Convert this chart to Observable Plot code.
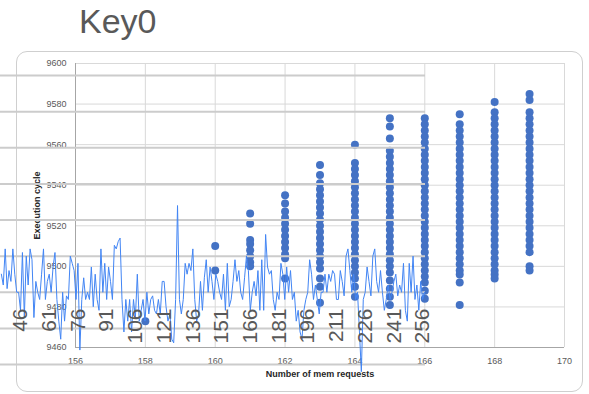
<!DOCTYPE html>
<html><head><meta charset="utf-8">
<script src="https://cdn.jsdelivr.net/npm/d3@7"></script>
<script src="https://cdn.jsdelivr.net/npm/@observablehq/plot@0.6"></script>
<style>
html,body{margin:0;padding:0;background:#fff;}
#wrap{position:relative;width:589px;height:394px;overflow:hidden;font-family:"Liberation Sans",Arial,sans-serif;}
#wrap svg{position:absolute;left:0;top:0;}
#box{position:absolute;left:16px;top:51px;width:567px;height:341px;border:1px solid #cfcfcf;border-radius:11px;box-sizing:border-box;}
#title{position:absolute;left:79px;top:4px;font-size:34px;line-height:34px;color:#595959;white-space:nowrap;}
</style></head><body>
<div id="wrap"><div id="box"></div></div>
<script>
// ---- Background scatter: Execution cycle vs Number of mem requests ----
const scatterXTicks = [156, 158, 160, 162, 164, 166, 168, 170];
const scatterYTicks = [9460, 9480, 9500, 9520, 9540, 9560, 9580, 9600];
const xTitle = "Number of mem requests";
const yTitle = "Execution cycle";

const col158 = [9473];
const col160 = [9510, 9498];
const col161 = [9526, 9521, 9513, 9511, 9508, 9505, 9502, 9500];
const col162 = [9535, 9531, 9527, 9524, 9521, 9518, 9515, 9512, 9509, 9506, 9504, 9494];
const col163 = [9550, 9545, 9541, 9538, 9535, 9532, 9529, 9526, 9523, 9520, 9517, 9514, 9511, 9508, 9505, 9502, 9499, 9494, 9490, 9482];
const col164 = [9560, 9551, 9548, 9545, 9542, 9539, 9536, 9533, 9530, 9527, 9524, 9521, 9518, 9515, 9512, 9509, 9506, 9503, 9500, 9497, 9494, 9490, 9485];
const col165 = [9573, 9569, 9563, 9557, 9554, 9551, 9548, 9545, 9542, 9539, 9536, 9533, 9530, 9527, 9524, 9521, 9518, 9515, 9512, 9509, 9506, 9503, 9500, 9497, 9493, 9489, 9485, 9481];
const col166 = [9573, 9570, 9567, 9564, 9561, 9558, 9555, 9552, 9549, 9546, 9543, 9540, 9537, 9534, 9531, 9528, 9525, 9522, 9519, 9516, 9513, 9510, 9507, 9504, 9501, 9498, 9495, 9492, 9488, 9484];
const col167 = [9575, 9570, 9567, 9564, 9561, 9558, 9555, 9552, 9549, 9546, 9543, 9540, 9537, 9534, 9531, 9528, 9525, 9522, 9519, 9516, 9513, 9510, 9507, 9504, 9501, 9498, 9496, 9492, 9481];
const col168 = [9581, 9576, 9573, 9570, 9567, 9564, 9561, 9558, 9555, 9552, 9549, 9546, 9543, 9540, 9537, 9534, 9531, 9528, 9525, 9522, 9519, 9516, 9513, 9510, 9507, 9504, 9501, 9498, 9496, 9494];
const col169 = [9585, 9582, 9576, 9573, 9570, 9567, 9564, 9561, 9558, 9555, 9552, 9549, 9546, 9543, 9540, 9537, 9534, 9531, 9528, 9525, 9522, 9519, 9516, 9513, 9510, 9507, 9500, 9498];

const columns = [[158, col158], [160, col160], [161, col161], [162, col162], [163, col163], [164, col164],
                 [165, col165], [166, col166], [167, col167], [168, col168], [169, col169]];
const points = columns.flatMap(([x, ys]) => ys.map(y => ({x, y})));

// ---- Overlay line: Key0 ----
const overlayTitle = "Key0";
const lineStart = 36;
const lineValues = [
25,22,32,21,26,23,32,25,20,20,
15,31,13,30,22,32,29,13,23,20,
18,25,32,18,23,25,20,27,31,18,
12,7,20,12,19,18,30,28,26,18,
28,4,18,24,18,20,18,27,16,25,
18,15,32,20,28,18,27,23,18,33,
32,34,35,18,9,18,12,18,9,18,
13,25,12,15,18,12,20,14,18,19,
15,14,18,14,23,23,16,12,14,7,
6,18,44,18,14,18,28,25,28,26,
32,18,12,14,23,15,24,29,20,27,
23,18,25,23,20,18,25,15,28,16,
18,23,29,23,26,20,18,24,30,26,
15,20,23,19,26,15,29,15,36,27,
25,26,18,15,20,18,28,25,18,27,
20,26,18,20,12,15,9,7,15,18,
20,29,25,18,22,18,14,20,20,25,
20,25,23,26,25,18,18,26,23,19,
30,32,26,20,25,18,20,9,-2,18,
20,27,23,19,30,32,23,20,26,20,
15,18,22,18,20,23,25,19,22,20,
28,15,12,28,20,30,18,22,15,23,
18,20];
const overlayXTicks = [46, 61, 76, 91, 106, 121, 136, 151, 166, 181, 196, 211, 226, 241, 256];
const overlayYGrid = [0, 10, 20, 30, 40, 50, 60, 70, 80];
const lineData = lineValues.map((v, i) => ({x: lineStart + i, y: v}));

const font = "Liberation Sans, Arial, sans-serif";

const bg = Plot.plot({
  width: 589, height: 394,
  marginLeft: 75, marginRight: 25, marginTop: 63, marginBottom: 47,
  style: {background: "transparent", fontFamily: font, fontSize: "9px", color: "#595959", overflow: "visible"},
  x: {domain: [156, 170], axis: null},
  y: {domain: [9460, 9600], axis: null},
  marks: [
    Plot.gridX(scatterXTicks, {stroke: "#d9d9d9", strokeOpacity: 1}),
    Plot.gridY(scatterYTicks, {stroke: "#d9d9d9", strokeOpacity: 1}),
    Plot.ruleX([156], {stroke: "#a6a6a6"}),
    Plot.ruleY([9460], {stroke: "#a6a6a6"}),
    Plot.axisX(scatterXTicks, {tickSize: 0, tickPadding: 10, label: null, fill: "#595959", tickFormat: d => String(d)}),
    Plot.axisY(scatterYTicks, {tickSize: 0, tickPadding: 9, label: null, fill: "#595959", tickFormat: d => String(d)}),
    Plot.dot(points, {x: "x", y: "y", r: 4, fill: "#4472c4"}),
    Plot.text([xTitle], {frameAnchor: "bottom", dy: 29, fontWeight: "bold", fontSize: 9, fill: "#262626"}),
    Plot.text([yTitle], {frameAnchor: "left", dx: -38, rotate: -90, textAnchor: "middle", fontWeight: "bold", fontSize: 9, fill: "#262626"})
  ]
});

const ov = Plot.plot({
  width: 425, height: 394,
  marginLeft: 0, marginRight: 0, marginTop: 75, marginBottom: 30,
  style: {background: "transparent", fontFamily: font, overflow: "visible"},
  x: {domain: [35.55, 257.5], axis: null},
  y: {domain: [0, 80], axis: null},
  marks: [
    Plot.gridY(overlayYGrid, {stroke: "#cccccc", strokeWidth: 2, strokeOpacity: 1}),
    Plot.line(lineData, {x: "x", y: "y", stroke: "#4285f4", strokeWidth: 1}),
    Plot.axisX(overlayXTicks, {anchor: "bottom", tickSize: 0, tickPadding: 0, tickRotate: -90, dy: -56,
      fontSize: 21, fill: "#595959", label: null, tickFormat: d => String(d)})
  ]
});

const wrap = document.getElementById("wrap");
wrap.appendChild(bg);
wrap.appendChild(ov);
const t = document.createElement("div");
t.id = "title";
t.textContent = overlayTitle;
wrap.appendChild(t);
</script>
</body></html>
